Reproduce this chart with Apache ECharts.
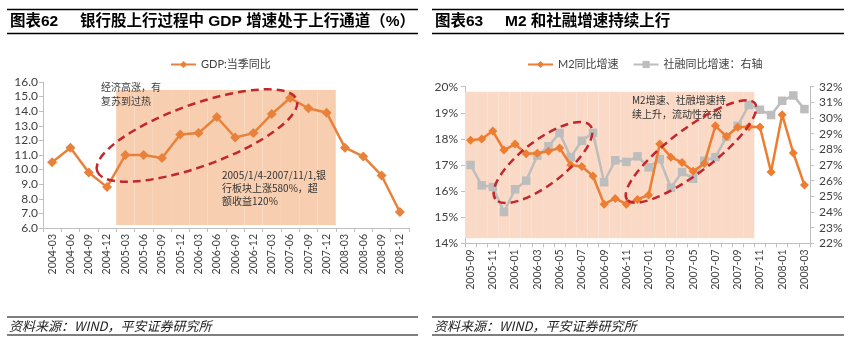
<!DOCTYPE html>
<html><head><meta charset="utf-8">
<script src="https://cdn.jsdelivr.net/npm/echarts@6/dist/echarts.min.js"></script>
<style>html,body{margin:0;padding:0;background:#fff}#c{width:851px;height:348px}</style>
</head><body><div id="c"></div>
<script>
// ---------- Data: left chart (GDP) ----------
const gdpCategories = ['2004-03','2004-06','2004-09','2004-12','2005-03','2005-06','2005-09','2005-12',
  '2006-03','2006-06','2006-09','2006-12','2007-03','2007-06','2007-09','2007-12',
  '2008-03','2008-06','2008-09','2008-12'];
const gdpValues = [10.5, 11.5, 9.8, 8.8, 11.0, 11.0, 10.8, 12.4, 12.5, 13.6, 12.2, 12.5, 13.8, 14.9, 14.2, 13.9, 11.5, 10.9, 9.6, 7.1];
const gdpShadeRange = ['2005-03', '2007-12'];
const gdpShadeLow = 6.2, gdpShadeHigh = 15.45;
const gdpAxis = [6, 16, 1];

// ---------- Data: right chart (M2 / TSF) ----------
const m2Categories = ['2005-09','2005-10','2005-11','2005-12',
  '2006-01','2006-02','2006-03','2006-04','2006-05','2006-06','2006-07','2006-08','2006-09','2006-10','2006-11','2006-12',
  '2007-01','2007-02','2007-03','2007-04','2007-05','2007-06','2007-07','2007-08','2007-09','2007-10','2007-11','2007-12',
  '2008-01','2008-02','2008-03'];
const m2Values = [17.95,18.0,18.3,17.57,17.8,17.43,17.45,17.53,17.65,17.0,16.94,16.58,15.5,15.72,15.5,15.68,
  15.85,17.8,17.3,17.1,16.76,17.06,18.5,18.09,18.45,18.47,18.46,16.73,18.93,17.46,16.23];
const tsfValues = [27.0,25.7,25.6,24.0,25.45,26.0,27.6,28.2,29.05,27.5,28.55,29.05,25.9,27.3,27.2,27.55,
  26.85,27.37,25.55,26.55,26.12,27.27,27.5,28.8,29.5,30.83,30.53,30.19,31.1,31.44,30.57];
const m2ShadeRange = ['2005-09', '2007-10'];
const m2ShadeLow = 14.19, m2ShadeHigh = 19.81;
const m2Axis = [14, 20, 1];
const tsfAxis = [22, 32, 1];

// ---------- helpers ----------
function shade(cats, range, low, high) {
  const s = cats.indexOf(range[0]), e = cats.indexOf(range[1]);
  return {
    base: cats.map((c, i) => (i >= s && i <= e) ? low : '-'),
    top: cats.map((c, i) => (i >= s && i <= e) ? +(high - low).toFixed(3) : '-')
  };
}
const gShade = shade(gdpCategories, gdpShadeRange, gdpShadeLow, gdpShadeHigh);
const mShade = shade(m2Categories, m2ShadeRange, m2ShadeLow, m2ShadeHigh);

const LAT = 'Lato, "Noto Sans CJK SC", sans-serif';
const CJK = '"Noto Sans CJK SC", sans-serif';
const axisGray = '#BFBFBF';
const labelColor = '#404040';
const ORANGE = '#EC7D31';
const GRAY = '#BDBDBD';
const RED = '#C1272D';

const chart = echarts.init(document.getElementById('c'));

function xAx(gridIndex, data, interval, fs) {
  return {
    type: 'category', gridIndex, data, boundaryGap: true,
    axisLine: { lineStyle: { color: axisGray, width: 1 } },
    axisTick: { show: true, interval: 0, length: 4, lineStyle: { color: axisGray } },
    axisLabel: { interval, rotate: 90, color: labelColor, fontSize: fs, fontFamily: LAT, margin: 6 },
    splitLine: { show: false }
  };
}
function yAx(gridIndex, ax, fmt, pos, margin) {
  return {
    type: 'value', gridIndex, min: ax[0], max: ax[1], interval: ax[2], position: pos,
    axisLine: { show: true, lineStyle: { color: axisGray } },
    axisTick: { show: true, length: 4, lineStyle: { color: axisGray } },
    axisLabel: { color: labelColor, fontSize: 12, fontFamily: LAT, formatter: fmt, margin },
    splitLine: { show: false }
  };
}

function ellipse(cx, cy, rx, ry, deg) {
  return {
    type: 'ellipse', x: cx, y: cy, rotation: deg * Math.PI / 180, z: 100,
    shape: { cx: 0, cy: 0, rx, ry },
    style: { fill: 'none', stroke: RED, lineWidth: 2.5, lineDash: [8, 5] }
  };
}
function txt(x, y, text, size, opts) {
  return Object.assign({
    type: 'text', x, y, z: 100,
    style: Object.assign({ text, fontSize: size, fontFamily: CJK, fill: '#333', lineHeight: 13 }, opts || {})
  });
}
function hline(x1, x2, y, w) {
  return { type: 'line', shape: { x1, y1: y, x2, y2: y }, style: { stroke: '#000', lineWidth: w } };
}

const option = {
  backgroundColor: '#fff',
  animation: false,
  grid: [
    { left: 43, top: 82, width: 366, height: 146, outerBoundsMode: 'none', containLabel: false },
    { left: 465, top: 86.7, width: 345, height: 156.6, outerBoundsMode: 'none', containLabel: false }
  ],
  legend: [
    { left: 165, top: 54, itemWidth: 25, itemHeight: 9, data: ['GDP:当季同比'],
      textStyle: { fontSize: 11, color: '#404040', fontFamily: LAT } },
    { left: 522, top: 54, itemWidth: 25, itemHeight: 9, itemGap: 14, data: ['M2同比增速', '社融同比增速：右轴'],
      textStyle: { fontSize: 11, color: '#404040', fontFamily: LAT } }
  ],
  xAxis: [xAx(0, gdpCategories, 0, 10.5), xAx(1, m2Categories, 1, 10.5)],
  yAxis: [
    yAx(0, gdpAxis, v => v.toFixed(1), 'left', 5),
    yAx(1, m2Axis, '{value}%', 'left', 7),
    yAx(1, tsfAxis, '{value}%', 'right', 9)
  ],
  series: [
    { type: 'bar', xAxisIndex: 0, yAxisIndex: 0, stack: 'g', data: gShade.base, barCategoryGap: '0%', barWidth: '100%',
      itemStyle: { color: 'rgba(0,0,0,0)' }, silent: true, z: 1 },
    { type: 'bar', xAxisIndex: 0, yAxisIndex: 0, stack: 'g', data: gShade.top, barCategoryGap: '0%', barWidth: '100%',
      itemStyle: { color: '#F7CEAF' }, silent: true, z: 1 },
    { name: 'GDP:当季同比', type: 'line', xAxisIndex: 0, yAxisIndex: 0, data: gdpValues, showAllSymbol: true,
      symbol: 'diamond', symbolSize: 10, lineStyle: { color: '#E8823A', width: 2.5 },
      itemStyle: { color: '#E8823A' }, z: 5 },

    { type: 'bar', xAxisIndex: 1, yAxisIndex: 1, stack: 'm', data: mShade.base, barCategoryGap: '0%', barWidth: '100%',
      itemStyle: { color: 'rgba(0,0,0,0)' }, silent: true, z: 1 },
    { type: 'bar', xAxisIndex: 1, yAxisIndex: 1, stack: 'm', data: mShade.top, barCategoryGap: '0%', barWidth: '100%',
      itemStyle: { color: '#FADAC6' }, silent: true, z: 1 },
    { name: 'M2同比增速', type: 'line', xAxisIndex: 1, yAxisIndex: 1, data: m2Values, showAllSymbol: true,
      symbol: 'diamond', symbolSize: 9, lineStyle: { color: ORANGE, width: 2.5 },
      itemStyle: { color: ORANGE }, z: 5 },
    { name: '社融同比增速：右轴', type: 'line', xAxisIndex: 1, yAxisIndex: 2, data: tsfValues, showAllSymbol: true,
      symbol: 'rect', symbolSize: 8.5, lineStyle: { color: GRAY, width: 2.5 },
      itemStyle: { color: GRAY }, z: 4 }
  ],
  graphic: [
    // title bars
    hline(7, 418, 9.5, 1.5), hline(7, 418, 33.5, 1.5),
    hline(432, 844, 9.5, 1.5), hline(432, 844, 33.5, 1.5),
    txt(10, 21.5, '图表62', 15.5, { fontWeight: 'bold', fill: '#000', verticalAlign: 'middle', fontFamily: 'Arial, "Noto Sans CJK SC"' }),
    txt(80, 21.5, '银行股上行过程中 GDP 增速处于上行通道（%）', 15.5, { fontWeight: 'bold', fill: '#000', verticalAlign: 'middle', fontFamily: 'Arial, "Noto Sans CJK SC"' }),
    txt(435, 21.5, '图表63', 15.5, { fontWeight: 'bold', fill: '#000', verticalAlign: 'middle', fontFamily: 'Arial, "Noto Sans CJK SC"' }),
    txt(505, 21.5, 'M2 和社融增速持续上行', 15.5, { fontWeight: 'bold', fill: '#000', verticalAlign: 'middle', fontFamily: 'Arial, "Noto Sans CJK SC"' }),
    // footers
    hline(7, 418, 317, 1.2), hline(7, 418, 335, 1.2),
    hline(432, 844, 317, 1.2), hline(432, 844, 335, 1.2),
    txt(9, 326.5, '资料来源：WIND，平安证券研究所', 13, { fontStyle: 'italic', fill: '#222', verticalAlign: 'middle' }),
    txt(434, 326.5, '资料来源：WIND，平安证券研究所', 13, { fontStyle: 'italic', fill: '#222', verticalAlign: 'middle' }),
    // annotations left
    txt(101, 80, '经济高涨，有\n复苏到过热', 10, { fill: '#404040', lineHeight: 14 }),
    txt(222, 169, '2005/1/4-2007/11/1,银\n行板块上涨580%，超\n额收益120%', 10, { fill: '#333', lineHeight: 12.8 }),
    ellipse(197, 135.5, 106, 31, 19.75),
    // annotations right
    txt(632, 93, 'M2增速、社融增速持\n续上升，流动性充裕', 10, { fill: '#333', lineHeight: 14 }),
    ellipse(543, 162.5, 60, 22, 37.6),
    ellipse(691, 151.5, 80, 22, 37)
  ]
};
chart.setOption(option);
</script>
</body></html>
